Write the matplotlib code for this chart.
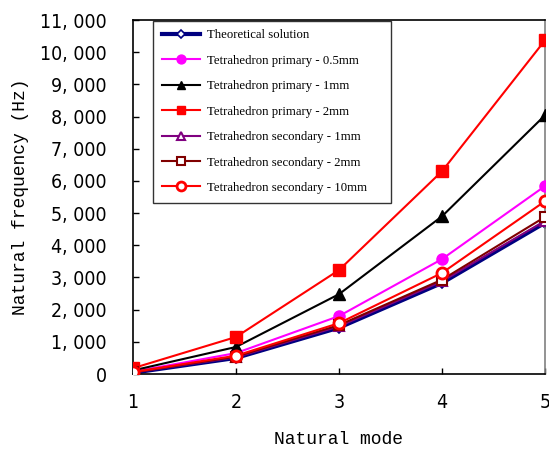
import matplotlib
matplotlib.use("Agg")
import matplotlib.pyplot as plt
from matplotlib.ticker import FuncFormatter

modes = [1, 2, 3, 4, 5]
theory = [40, 500, 1440, 2830, 4700]
prim_05 = [70, 650, 1800, 3570, 5840]
prim_1 = [110, 840, 2480, 4900, 8040]
prim_2 = [180, 1150, 3230, 6300, 10370]
sec_1 = [45, 520, 1480, 2880, 4760]
sec_2 = [50, 540, 1520, 2930, 4880]
sec_10 = [60, 570, 1580, 3140, 5370]

labels = ["Theoretical solution", "Tetrahedron primary - 0.5mm",
          "Tetrahedron primary - 1mm", "Tetrahedron primary - 2mm",
          "Tetrahedron secondary - 1mm", "Tetrahedron secondary - 2mm",
          "Tetrahedron secondary - 10mm"]

fig = plt.figure(figsize=(5.49, 4.5), dpi=100)
ax = fig.add_axes([133/549, 76/450, 412/549, 354/450])

label_font = ["Liberation Mono", "DejaVu Sans Mono"]

ax.plot(modes, theory, color="#000080", lw=3, marker="D", ms=5,
        mfc="white", mec="#000080", mew=1.2, label=labels[0], zorder=2)
ax.plot(modes, prim_05, color="#ff00ff", lw=1.5, marker="o", ms=8,
        label=labels[1], zorder=3)
ax.plot(modes, prim_1, color="black", lw=1.5, marker="^", ms=8,
        label=labels[2], zorder=3)
ax.plot(modes, prim_2, color="red", lw=1.5, marker="s", ms=8,
        label=labels[3], zorder=3)
ax.plot(modes, sec_1, color="#800080", lw=1.5, marker="^", ms=7,
        mfc="white", mew=1.5, label=labels[4], zorder=3)
ax.plot(modes, sec_2, color="#800000", lw=1.5, marker="s", ms=7,
        mfc="white", mew=1.5, label=labels[5], zorder=3)
ax.plot(modes, sec_10, color="red", lw=1.5, marker="o", ms=8,
        mfc="white", mew=2, label=labels[6], zorder=4)

ax.set_xlim(1, 5)
ax.set_ylim(0, 11000)
ax.set_xticks(modes)
ax.set_yticks(range(0, 11001, 1000))
ax.yaxis.set_major_formatter(FuncFormatter(lambda v, p: f"{int(v):,}".replace(",", ", ")))
ax.tick_params(direction="in", length=4, width=1, labelsize=14)
ax.tick_params(axis="y", pad=19)
ax.tick_params(axis="x", pad=14)
for lab in ax.get_xticklabels() + ax.get_yticklabels():
    lab.set_fontfamily("DejaVu Sans")
    lab.set_fontstretch("condensed")

ax.spines["right"].set_color("gray")
ax.spines["top"].set_color("black")
for s in ax.spines.values():
    s.set_linewidth(1.2)

ax.set_xlabel("Natural mode", fontsize=13, fontfamily=label_font, labelpad=13)
ax.set_ylabel("Natural frequency (Hz)", fontsize=13, fontfamily=label_font, labelpad=8)

# legend box stretched to the reference width
leg = ax.legend(loc="upper left", bbox_to_anchor=(153/549, 425/450, 238/549, 0.01),
                bbox_transform=fig.transFigure, mode="expand", frameon=True,
                fancybox=False, edgecolor="black",
                prop={"family": "Liberation Serif", "size": 9.2},
                handlelength=3.0, labelspacing=1.05, borderpad=0.7,
                handletextpad=0.5, borderaxespad=0, markerscale=0.8)
leg.get_frame().set_linewidth(1.0)

fig.savefig("out.png", dpi=100)
